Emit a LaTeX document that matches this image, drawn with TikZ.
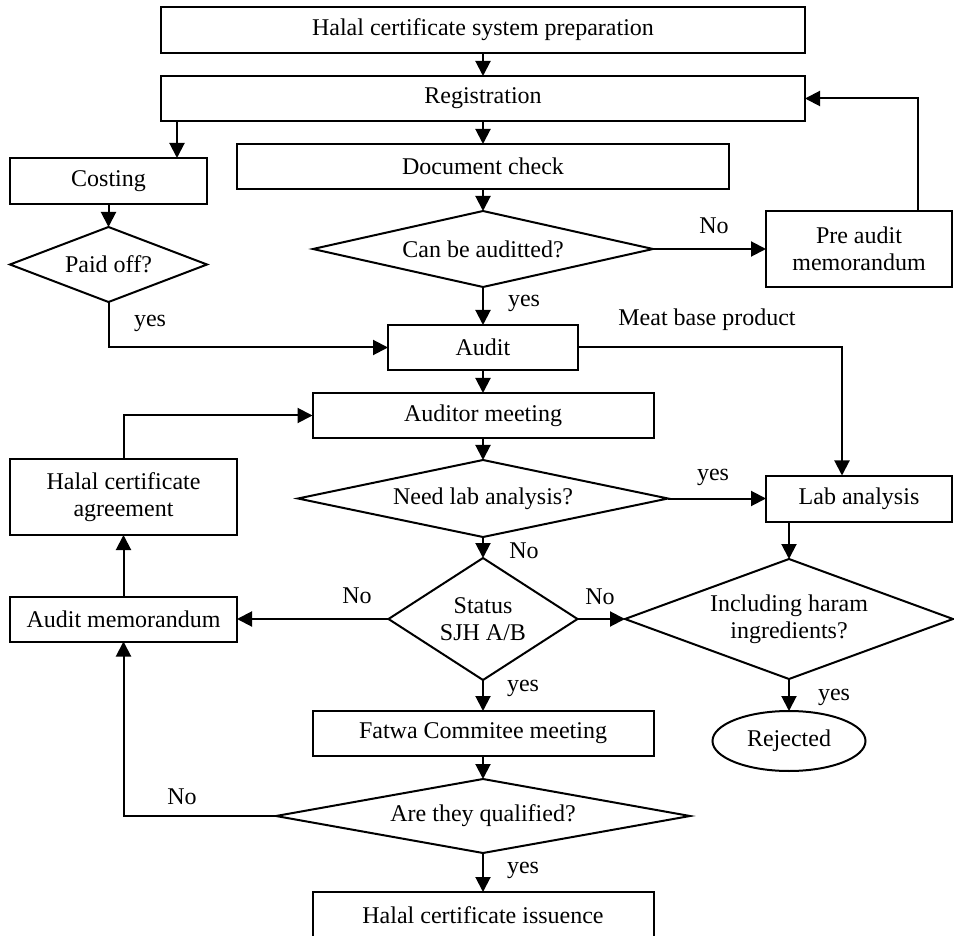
\documentclass[tikz,border=0pt]{standalone}
\usepackage{fontspec}
\setmainfont{Liberation Serif}
\usetikzlibrary{shapes.geometric,arrows.meta}
\tikzset{
  txt/.style={font=\fontsize{12}{13.5}\selectfont},
  base/.style={draw, line width=1pt, txt, inner sep=0pt, outer sep=0pt, align=center},
  box/.style={base, rectangle},
  dia/.style={base, diamond},
  ell/.style={base, ellipse},
  lbl/.style={txt, inner sep=0pt, align=center},
  arr/.style={line width=1pt, -{Triangle[length=7.5pt,width=7.5pt]}},
}
\begin{document}
\begin{tikzpicture}[x=0.5pt,y=-0.5pt]
\useasboundingbox (0,0) rectangle (954,936);
% process boxes
\node[box, minimum width=322pt, minimum height=23pt] (prep) at (483,30) {Halal certificate system preparation};
\node[box, minimum width=322pt, minimum height=22.5pt] (reg) at (483,98.5) {Registration};
\node[box, minimum width=98.5pt, minimum height=23pt] (cost) at (108.5,181) {Costing};
\node[box, minimum width=246pt, minimum height=22.5pt] (doc) at (483,166.5) {Document check};
\node[dia, minimum width=98.5pt, minimum height=37.5pt, label={[lbl]center:Paid off?}] (paid) at (108.5,264.5) {};
\node[dia, minimum width=170pt, minimum height=38pt, label={[lbl]center:Can be auditted?}] (can) at (483,249) {};
\node[box, minimum width=93pt, minimum height=38pt] (pre) at (859,249) {Pre audit\\memorandum};
\node[box, minimum width=95pt, minimum height=22.5pt] (audit) at (483,347.5) {Audit};
\node[box, minimum width=170.5pt, minimum height=22.5pt] (audmeet) at (483,415.5) {Auditor meeting};
\node[box, minimum width=113.5pt, minimum height=38pt] (agree) at (123.5,497) {Halal certificate\\agreement};
\node[dia, minimum width=185pt, minimum height=38.5pt, label={[lbl]center:Need lab analysis?}] (need) at (483,498.5) {};
\node[box, minimum width=93pt, minimum height=23pt] (lab) at (859,498.5) {Lab analysis};
\node[dia, minimum width=94.5pt, minimum height=61pt, label={[lbl]center:Status\\SJH A/B}] (status) at (483,619) {};
\node[box, minimum width=113.5pt, minimum height=22.5pt] (memo) at (123.5,619) {Audit memorandum};
\node[dia, minimum width=164pt, minimum height=60pt, label={[lbl]center:Including haram\\ingredients?}] (incl) at (789,619) {};
\node[box, minimum width=170.5pt, minimum height=22.5pt] (fatwa) at (483,733.5) {Fatwa Commitee meeting};
\node[ell, minimum width=76.5pt, minimum height=30pt] (rej) at (789,741) {Rejected};
\node[dia, minimum width=207pt, minimum height=37pt, label={[lbl]center:Are they qualified?}] (qual) at (483,816) {};
\node[box, minimum width=170.5pt, minimum height=23pt] (issue) at (483,915) {Halal certificate issuence};
% free labels
\node[lbl] (noA) at (714,226) {No};
\node[lbl] (yesA) at (524,303) {yes};
\node[lbl] (yesP) at (150,323) {yes};
\node[lbl] (meat) at (707,320) {Meat base product};
\node[lbl] (yesL) at (713,477) {yes};
\node[lbl] (noS) at (524,551) {No};
\node[lbl] (noM) at (357,596) {No};
\node[lbl] (noI) at (600,597) {No};
\node[lbl] (yesF) at (523,688) {yes};
\node[lbl] (yesR) at (834,697) {yes};
\node[lbl] (noQ) at (182,797) {No};
\node[lbl] (yesI) at (523,870) {yes};
% helper coordinates
\coordinate (rc) at ([xshift=8pt]reg.south west);
\coordinate (pc) at ([xshift=29.5pt]pre.north);
\coordinate (lt) at ([xshift=-8.5pt]lab.north);
% connectors
\draw[arr] (prep.south) -- (reg.north);
\draw[arr] (rc) -- (rc |- cost.north);
\draw[arr] (reg.south) -- (doc.north);
\draw[arr] (doc.south) -- (can.north);
\draw[arr] (cost.south) -- (paid.north);
\draw[arr] (can.east) -- (pre.west);
\draw[arr] (pc) |- (reg.east);
\draw[arr] (can.south) -- (audit.north);
\draw[arr] (paid.south) |- (audit.west);
\draw[arr] (audit.east) -| (lt);
\draw[arr] (audit.south) -- (audmeet.north);
\draw[arr] (audmeet.south) -- (need.north);
\draw[arr] (need.east) -- (lab.west);
\draw[arr] (need.south) -- (status.north);
\draw[arr] (incl.north |- lab.south) -- (incl.north);
\draw[arr] (status.west) -- (memo.east);
\draw[arr] (status.east) -- (incl.west);
\draw[arr] (status.south) -- (fatwa.north);
\draw[arr] (incl.south) -- (rej.north);
\draw[arr] (fatwa.south) -- (qual.north);
\draw[arr] (qual.west) -| (memo.south);
\draw[arr] (memo.north) -- (agree.south);
\draw[arr] (agree.north) |- (audmeet.west);
\draw[arr] (qual.south) -- (issue.north);
\end{tikzpicture}
\end{document}
